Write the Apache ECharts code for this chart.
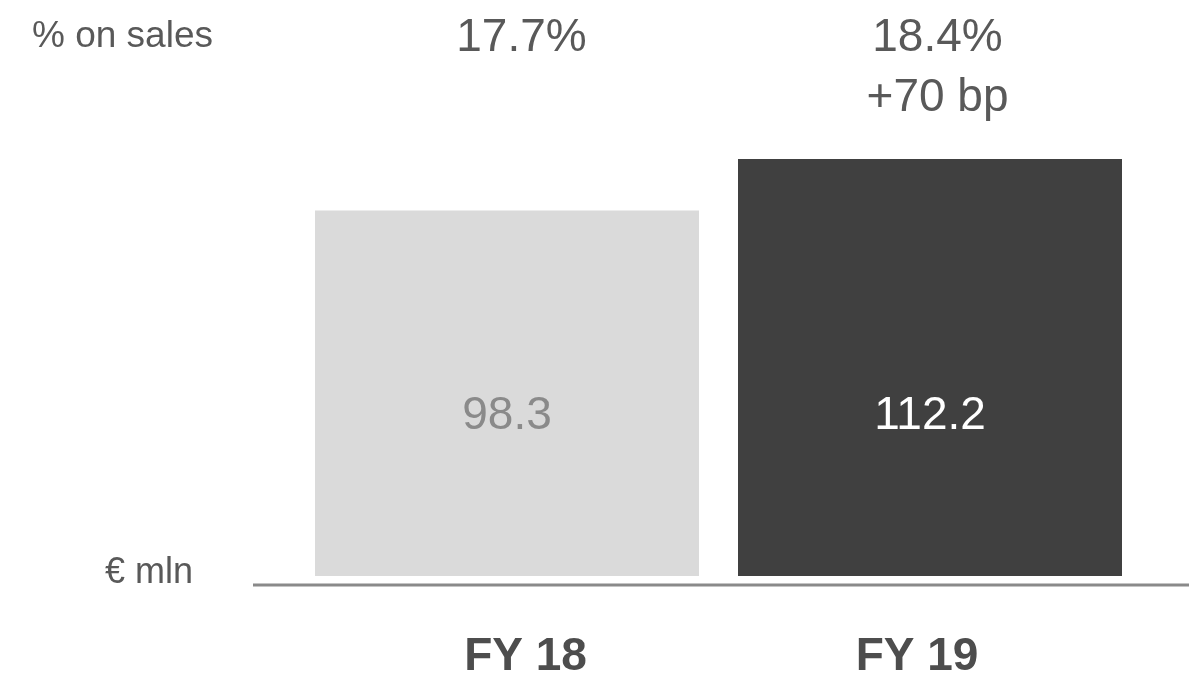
<!DOCTYPE html>
<html>
<head>
<meta charset="utf-8">
<title>FY 18 vs FY 19</title>
<script src="https://cdn.jsdelivr.net/npm/echarts@6/dist/echarts.min.js"></script>
<style>
    html, body {margin: 0; padding: 0; background: #fff;}
    #main {width: 1189px; height: 686px;}
</style>
</head>
<body>
<div id="main"></div>
<script>
    // 数据
    var categories = ['FY 18', 'FY 19'];
    var values = [98.3, 112.2];
    var pctLabels = ['17.7%', '18.4%\n+70 bp'];
    var barColors = ['#dadada', '#404040'];
    var valueColors = ['#8a8a8a', '#ffffff'];

    var font = "'Liberation Sans', Arial, sans-serif";

    var myChart = echarts.init(document.getElementById('main'));

    var barData = values.map(function (v, i) {
        return {
            value: v,
            itemStyle: {color: barColors[i]},
            label: {color: valueColors[i]}
        };
    });

    var option = {
        animation: false,
        grid: [
            {left: 295.5, right: 47.5, top: 18.4, bottom: 110},   // 柱子
            {left: 329.75, right: 76.25, top: 575, bottom: 110},  // 底部年份
            {left: 313.5, right: 43.5, top: 8, height: 1}         // 顶部百分比
        ],
        xAxis: [{
            gridIndex: 0,
            type: 'category',
            data: categories,
            axisLine: {show: false},
            axisTick: {show: false},
            axisLabel: {show: false}
        }, {
            gridIndex: 1,
            type: 'category',
            data: categories,
            axisLine: {show: false},
            axisTick: {show: false},
            axisLabel: {
                margin: 58,
                fontFamily: font,
                fontSize: 46,
                fontWeight: 'bold',
                color: '#4d4d4d'
            }
        }, {
            gridIndex: 2,
            type: 'category',
            position: 'top',
            data: pctLabels,
            axisLine: {show: false},
            axisTick: {show: false},
            axisLabel: {
                margin: 0,
                verticalAlign: 'top',
                lineHeight: 60,
                fontFamily: font,
                fontSize: 46,
                color: '#595959'
            }
        }],
        yAxis: [
            {gridIndex: 0, type: 'value', min: 0, max: 150, show: false},
            {gridIndex: 1, type: 'value', show: false},
            {gridIndex: 2, type: 'value', show: false}
        ],
        series: [{
            type: 'bar',
            xAxisIndex: 0,
            yAxisIndex: 0,
            barWidth: 384,
            data: barData,
            label: {
                show: true,
                position: 'insideBottom',
                distance: 137,
                fontFamily: font,
                fontSize: 46
            }
        }],
        graphic: [{
            type: 'line',
            shape: {x1: 253, y1: 585, x2: 1189, y2: 585},
            style: {stroke: '#8a8a8a', lineWidth: 3}
        }, {
            type: 'text',
            left: 32,
            top: 18,
            style: {text: '% on sales', font: '37px ' + font, fill: '#595959'}
        }, {
            type: 'text',
            left: 105,
            top: 555,
            style: {text: '€ mln', font: '36px ' + font, fill: '#595959'}
        }]
    };

    myChart.setOption(option);
</script>
</body>
</html>
